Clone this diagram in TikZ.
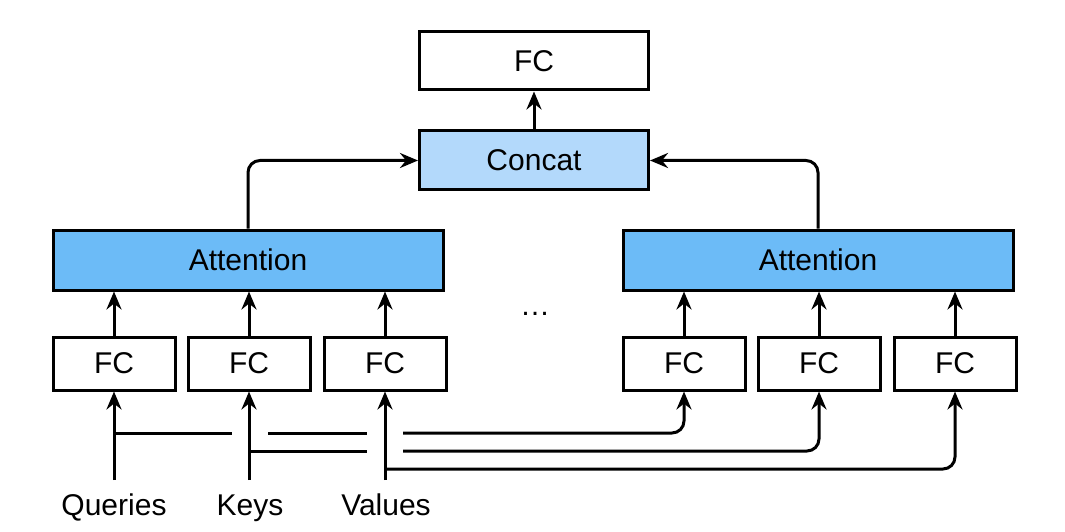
\documentclass[tikz,border=0pt]{standalone}
\usepackage{fontspec}
\setmainfont{Liberation Sans}
\usepackage{xcolor}
\usetikzlibrary{arrows.meta,calc,positioning}
\definecolor{attblue}{HTML}{6CBBF7}
\definecolor{catblue}{HTML}{B3D9FB}
\begin{document}
\begin{tikzpicture}[x=1pt,y=1pt,line width=3pt,
    font=\fontsize{30}{36}\selectfont,
    box/.style={draw, fill=white, inner sep=0pt, minimum height=53pt, minimum width=122pt},
    attbox/.style={box, fill=attblue, minimum height=60pt, minimum width=390pt},
    catbox/.style={box, fill=catblue, minimum height=59pt, minimum width=229pt},
    arr/.style={-{Stealth[length=18pt,width=15pt,inset=6pt]}},
    bus/.style={rounded corners=12pt}]
  \useasboundingbox (0,0) rectangle (1065,531);
  % top
  \node[box, minimum height=58pt, minimum width=229pt] (fcTop) at (534,470) {FC};
  \node[catbox] (concat) at (534,370.5) {Concat};
  % heads
  \node[attbox] (attL) at (248,271) {Attention};
  \node[attbox] (attR) at (818,271) {Attention};
  \node[anchor=base] (dots) at (535,216) {\dots};
  \node[box] (fcQ) at (114,167.5) {FC};
  \node[box] (fcK) at (249,167.5) {FC};
  \node[box] (fcV) at (385,167.5) {FC};
  \node[box] (fcRQ) at (684,167.5) {FC};
  \node[box] (fcRK) at (819,167.5) {FC};
  \node[box] (fcRV) at (955,167.5) {FC};
  % inputs
  \node[anchor=base] (qry) at (114,16) {Queries};
  \node[anchor=base] (key) at (250,16) {Keys};
  \node[anchor=base] (val) at (386,16) {Values};
  \coordinate (qIn) at (114,51);
  \coordinate (kIn) at (249,51);
  \coordinate (vIn) at (385,51);

  \draw[arr] (concat) -- (fcTop);
  \draw[arr, bus] (attL.north) |- (concat.west);
  \draw[arr, bus] (attR.north) |- (concat.east);
  \foreach \f/\a in {fcQ/attL, fcK/attL, fcV/attL, fcRQ/attR, fcRK/attR, fcRV/attR}
    \draw[arr] (\f.north) -- (\f.north |- \a.south);
  \draw[arr] (qIn) -- (fcQ.south);
  \draw[arr] (kIn) -- (fcK.south);
  \draw[arr] (vIn) -- (fcV.south);
  % buses to the second head (gaps where they cross)
  \draw (qIn |- 0,98) -- (232,98) (268,98) -- (367,98);
  \draw[arr, bus] (403,98) -| (fcRQ.south);
  \draw (kIn |- 0,80) -- (367,80);
  \draw[arr, bus] (403,80) -| (fcRK.south);
  \draw[arr, bus] (vIn |- 0,62) -| (fcRV.south);
\end{tikzpicture}
\end{document}
